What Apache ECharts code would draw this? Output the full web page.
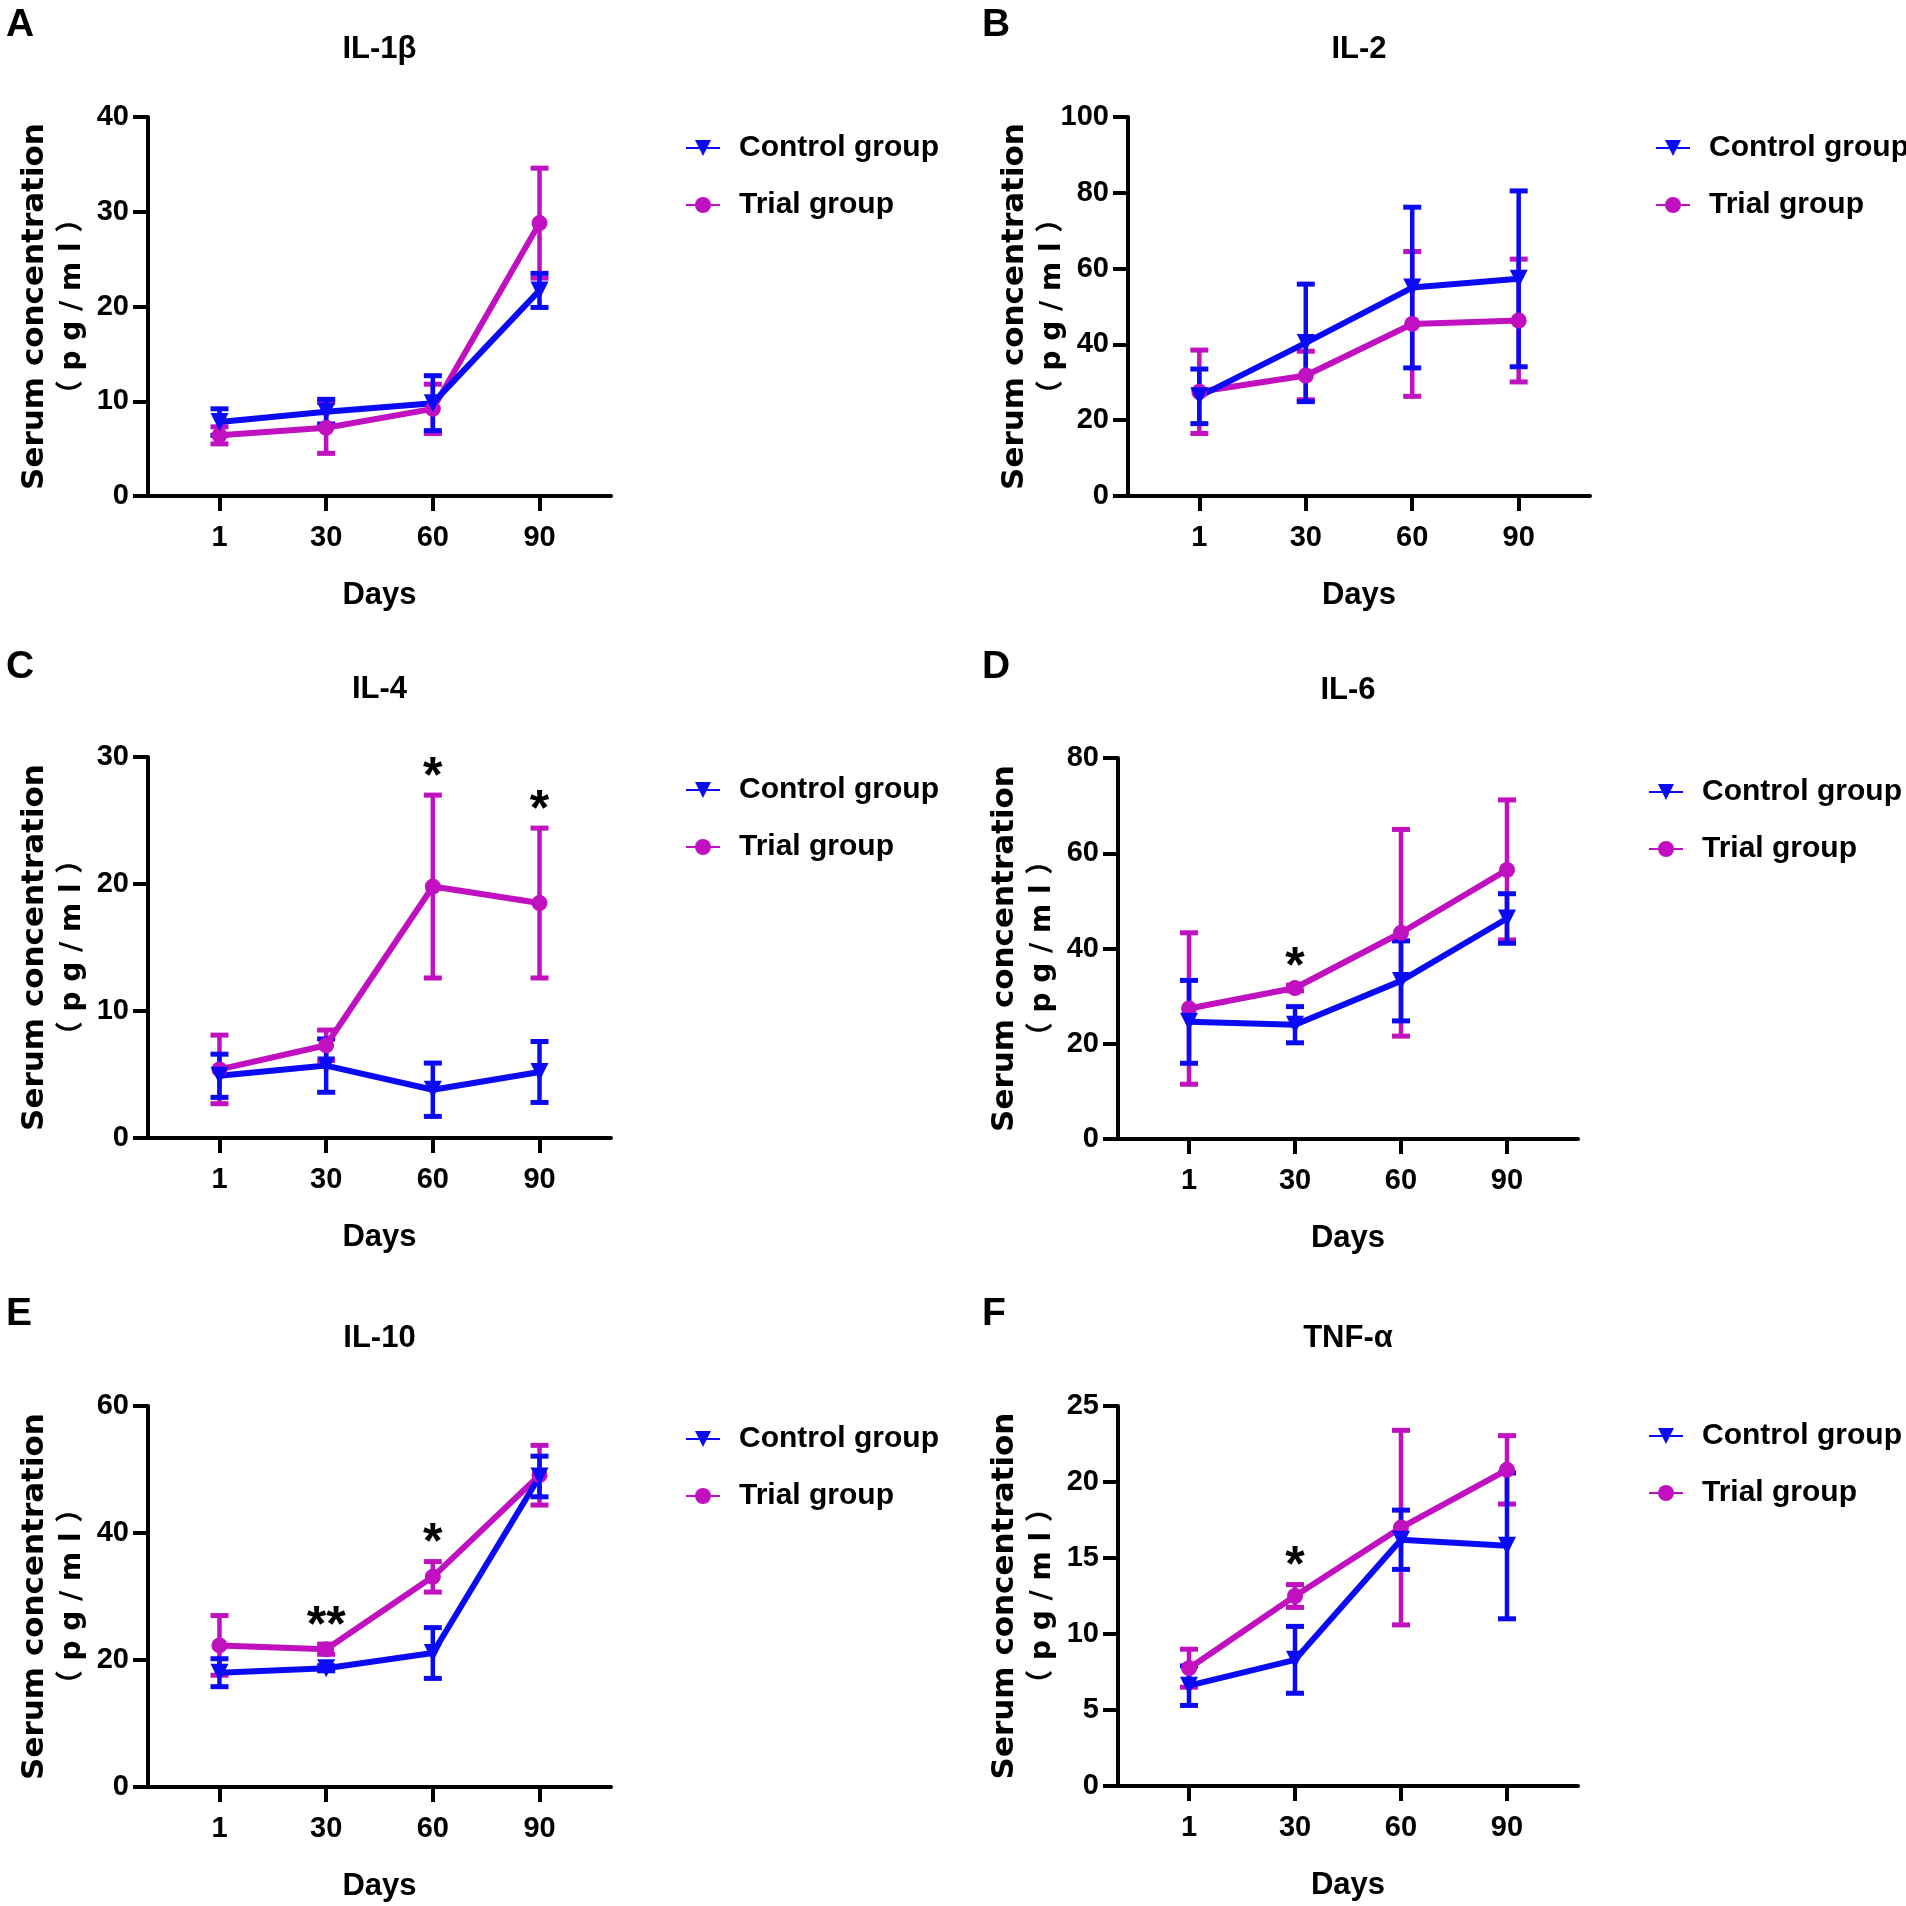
<!DOCTYPE html>
<html>
<head>
<meta charset="utf-8">
<script src="https://cdn.jsdelivr.net/npm/echarts@6/dist/echarts.min.js"></script>
<style>
  html, body { margin: 0; background: #fff; }
  #chart { width: 1906px; height: 1906px; }
</style>
</head>
<body>
<div id="chart"></div>
<script>
// x categories (days) and panel texts
const days = ['1', '30', '60', '90'];
const letters = ['A', 'B', 'C', 'D', 'E', 'F'];
const titles = ['IL-1β', 'IL-2', 'IL-4', 'IL-6', 'IL-10', 'TNF-α'];
const yMax = [40, 100, 30, 80, 60, 25];
const yStep = [10, 20, 10, 20, 20, 5];

// means and error
const il1bCtrl = [7.8, 8.9, 9.8, 21.7];
const il1bCtrlErr = [1.4, 1.3, 2.9, 1.8];
const il1bTrial = [6.4, 7.2, 9.2, 28.8];
const il1bTrialErr = [0.9, 2.7, 2.6, 5.8];
const il1bStars = ['', '', '', ''];

const il2Ctrl = [26.3, 40.4, 55.0, 57.3];
const il2CtrlErr = [7.2, 15.5, 21.2, 23.2];
const il2Trial = [27.5, 31.8, 45.4, 46.3];
const il2TrialErr = [11.0, 6.4, 19.1, 16.2];
const il2Stars = ['', '', '', ''];

const il4Ctrl = [4.9, 5.7, 3.8, 5.2];
const il4CtrlErr = [1.7, 2.1, 2.1, 2.4];
const il4Trial = [5.4, 7.3, 19.8, 18.5];
const il4TrialErr = [2.7, 1.2, 7.2, 5.9];
const il4Stars = ['', '', '*', '*'];

const il6Ctrl = [24.6, 24.0, 33.2, 46.3];
const il6CtrlErr = [8.7, 3.8, 8.4, 5.2];
const il6Trial = [27.4, 31.7, 43.3, 56.5];
const il6TrialErr = [15.9, 0.6, 21.7, 14.7];
const il6Stars = ['', '*', '', ''];

const il10Ctrl = [18.0, 18.7, 21.1, 48.9];
const il10CtrlErr = [2.2, 0.4, 4.0, 3.2];
const il10Trial = [22.3, 21.7, 33.1, 49.1];
const il10TrialErr = [4.7, 0.8, 2.4, 4.7];
const il10Stars = ['', '**', '*', ''];

const tnfCtrl = [6.6, 8.3, 16.2, 15.8];
const tnfCtrlErr = [1.3, 2.2, 1.95, 4.8];
const tnfTrial = [7.75, 12.5, 17.0, 20.8];
const tnfTrialErr = [1.25, 0.75, 6.4, 2.25];
const tnfStars = ['', '*', '', ''];

const panels = [
  [il1bCtrl, il1bCtrlErr, il1bTrial, il1bTrialErr, il1bStars],
  [il2Ctrl, il2CtrlErr, il2Trial, il2TrialErr, il2Stars],
  [il4Ctrl, il4CtrlErr, il4Trial, il4TrialErr, il4Stars],
  [il6Ctrl, il6CtrlErr, il6Trial, il6TrialErr, il6Stars],
  [il10Ctrl, il10CtrlErr, il10Trial, il10TrialErr, il10Stars],
  [tnfCtrl, tnfCtrlErr, tnfTrial, tnfTrialErr, tnfStars]
];

const BLUE = '#0a0af5';
const MAGENTA = '#c010c0';
const FONT = "'Liberation Sans', Arial, sans-serif";

// grid boxes: left, top, width, height
const boxes = [
  [148, 117, 463, 379],
  [1128, 117, 462, 379],
  [148, 757, 463, 381],
  [1118, 758, 460, 381],
  [148, 1406, 463, 381],
  [1118, 1406, 460, 380]
];
const legendPos = [[685, 133], [1655, 133], [685, 775], [1648, 777], [685, 1424], [1648, 1421]];
const letterPos = [[6, 6], [982, 6], [6, 648], [982, 648], [6, 1295], [982, 1295]];

function errorBars(color) {
  return function (params, api) {
    const x = api.value(0);
    const hi = api.coord([x, api.value(1)]);
    const lo = api.coord([x, api.value(2)]);
    const w = 9;
    const st = { stroke: color, lineWidth: 5 };
    return {
      type: 'group',
      children: [
        { type: 'line', shape: { x1: hi[0], y1: hi[1], x2: lo[0], y2: lo[1] }, style: { stroke: color, lineWidth: 4.5 } },
        { type: 'line', shape: { x1: hi[0] - w, y1: hi[1], x2: hi[0] + w, y2: hi[1] }, style: st },
        { type: 'line', shape: { x1: lo[0] - w, y1: lo[1], x2: lo[0] + w, y2: lo[1] }, style: st }
      ]
    };
  };
}

const grid = [], xAxis = [], yAxis = [], series = [], legend = [], title = [];

panels.forEach(function (p, k) {
  const [ctrl, ctrlErr, trial, trialErr, stars] = p;
  const b = boxes[k];
  grid.push({ left: b[0], top: b[1], width: b[2], height: b[3], containLabel: false });

  xAxis.push({
    gridIndex: k, type: 'value', min: -0.67, max: 3.67,
    name: 'Days', nameLocation: 'middle', nameGap: 84,
    nameTextStyle: { fontSize: 31, fontWeight: 'bold', fontFamily: FONT, color: '#000' },
    axisLine: { show: true, onZero: false, lineStyle: { color: '#000', width: 4 } },
    axisTick: { show: true, length: 15, lineStyle: { color: '#000', width: 4 }, customValues: [0, 1, 2, 3] },
    axisLabel: {
      customValues: [0, 1, 2, 3], margin: 27,
      formatter: function (v) { return days[Math.round(v)]; },
      fontSize: 29, fontWeight: 'bold', fontFamily: FONT, color: '#000'
    },
    splitLine: { show: false }
  });

  yAxis.push({
    gridIndex: k, type: 'value', min: 0, max: yMax[k], interval: yStep[k],
    name: '{a|Serum concentration}\n{b|（ p g / m l ）}',
    nameLocation: 'middle', nameRotate: 90, nameGap: 56, nameMoveOverlap: false,
    nameTextStyle: {
      color: '#000',
      rich: {
        a: { fontFamily: "'DejaVu Sans', sans-serif", fontWeight: 'bold', fontSize: 31, lineHeight: 38, color: '#000' },
        b: { fontFamily: "'DejaVu Sans', 'Noto Sans CJK SC', sans-serif", fontWeight: 'bold', fontSize: 28, lineHeight: 38, color: '#000' }
      }
    },
    axisLine: { show: true, onZero: false, lineStyle: { color: '#000', width: 4 } },
    axisTick: { show: true, length: 15, lineStyle: { color: '#000', width: 4 } },
    axisLabel: { margin: 19, fontSize: 29, fontWeight: 'bold', fontFamily: FONT, color: '#000' },
    splitLine: { show: false }
  });

  series.push({
    type: 'custom', name: 'trialErr' + k, xAxisIndex: k, yAxisIndex: k,
    renderItem: errorBars(MAGENTA), encode: { x: 0, y: [1, 2] },
    data: trial.map(function (v, i) { return [i, v + trialErr[i], v - trialErr[i]]; })
  });
  series.push({
    type: 'line', name: 'Trial group', xAxisIndex: k, yAxisIndex: k,
    symbol: 'circle', symbolSize: 16,
    lineStyle: { color: MAGENTA, width: 6 }, itemStyle: { color: MAGENTA },
    data: trial.map(function (v, i) { return [i, v]; })
  });
  series.push({
    type: 'custom', name: 'ctrlErr' + k, xAxisIndex: k, yAxisIndex: k,
    renderItem: errorBars(BLUE), encode: { x: 0, y: [1, 2] },
    data: ctrl.map(function (v, i) { return [i, v + ctrlErr[i], v - ctrlErr[i]]; })
  });
  series.push({
    type: 'line', name: 'Control group', xAxisIndex: k, yAxisIndex: k,
    symbol: 'triangle', symbolRotate: 180, symbolSize: 18,
    lineStyle: { color: BLUE, width: 6 }, itemStyle: { color: BLUE },
    data: ctrl.map(function (v, i) { return [i, v]; })
  });
  const starData = [];
  stars.forEach(function (s, i) {
    if (s) starData.push([i, Math.max(trial[i] + trialErr[i], ctrl[i] + ctrlErr[i]), s]);
  });
  series.push({
    type: 'custom', name: 'stars' + k, xAxisIndex: k, yAxisIndex: k,
    encode: { x: 0, y: 1 },
    renderItem: function (params, api) {
      const pt = api.coord([api.value(0), api.value(1)]);
      return {
        type: 'text', x: pt[0], y: pt[1] - 17,
        style: { text: starData[params.dataIndex][2], fill: '#000', font: 'bold 50px ' + FONT, align: 'center', verticalAlign: 'middle' }
      };
    },
    data: starData
  });

  legend.push({
    left: legendPos[k][0], top: legendPos[k][1], orient: 'vertical', padding: 0,
    itemGap: 27, itemWidth: 34, itemHeight: 20, selectedMode: false,
    data: ['Control group', 'Trial group'],
    textStyle: { fontSize: 30, fontWeight: 'bold', fontFamily: FONT, color: '#000', padding: [0, 0, 0, 14] }
  });

  title.push({
    text: titles[k], left: b[0] + b[2] / 2, top: b[1] - 83, textAlign: 'center', padding: 0,
    textStyle: { fontSize: 31, fontWeight: 'bold', fontFamily: FONT, color: '#000' }
  });
  title.push({
    text: letters[k], left: letterPos[k][0], top: letterPos[k][1], padding: 0,
    textStyle: { fontSize: 39, fontWeight: 'bold', fontFamily: FONT, color: '#000' }
  });
});

const chart = echarts.init(document.getElementById('chart'));
chart.setOption({
  backgroundColor: '#fff',
  animation: false,
  title: title,
  legend: legend,
  grid: grid,
  xAxis: xAxis,
  yAxis: yAxis,
  series: series
});
</script>
</body>
</html>
